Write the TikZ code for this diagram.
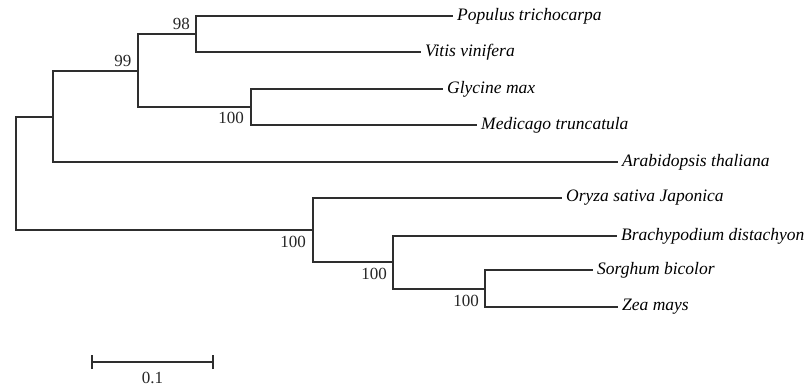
\documentclass[tikz,border=0pt]{standalone}
\usepackage{fontspec}
\setmainfont{Liberation Serif}
\begin{document}
\begin{tikzpicture}[x=1pt,y=-1pt,
  branch/.style={draw=black!82,line width=1.8pt},
  leaf/.style={anchor=west,inner sep=0pt,xshift=4pt,font=\fontsize{17.5}{17.5}\selectfont\itshape},
  boot/.style={inner sep=0pt,font=\fontsize{17}{17}\selectfont,text=black!85}]
\useasboundingbox (0,0) rectangle (806,389);
% internal nodes
\coordinate (R) at (16,174);
\coordinate (A) at (53,117);
\coordinate (N99) at (138,71);
\coordinate (N98) at (196,34);
\coordinate (NGM) at (251,107);
\coordinate (M) at (313,230);
\coordinate (B) at (393,262);
\coordinate (S) at (485,289);
% leaf tips
\coordinate (tPop) at (453,16);
\coordinate (tVit) at (421,52);
\coordinate (tGly) at (443,89);
\coordinate (tMed) at (477,125);
\coordinate (tAra) at (618,162);
\coordinate (tOry) at (562,198);
\coordinate (tBra) at (617,236);
\coordinate (tSor) at (593,270);
\coordinate (tZea) at (618,307);
% leaf labels
\node[leaf] (Pop) at (tPop) {Populus trichocarpa};
\node[leaf] (Vit) at (tVit) {Vitis vinifera};
\node[leaf] (Gly) at (tGly) {Glycine max};
\node[leaf] (Med) at (tMed) {Medicago truncatula};
\node[leaf] (Ara) at (tAra) {Arabidopsis thaliana};
\node[leaf] (Ory) at (tOry) {Oryza sativa Japonica};
\node[leaf] (Bra) at (tBra) {Brachypodium distachyon};
\node[leaf] (Sor) at (tSor) {Sorghum bicolor};
\node[leaf] (Zea) at (tZea) {Zea mays};
% branches
\draw[branch] (N98) |- (tPop);
\draw[branch] (N98) |- (tVit);
\draw[branch] (NGM) |- (tGly);
\draw[branch] (NGM) |- (tMed);
\draw[branch] (N99) |- (N98);
\draw[branch] (N99) |- (NGM);
\draw[branch] (A) |- (N99);
\draw[branch] (A) |- (tAra);
\draw[branch] (S) |- (tSor);
\draw[branch] (S) |- (tZea);
\draw[branch] (B) |- (tBra);
\draw[branch] (B) |- (S);
\draw[branch] (M) |- (tOry);
\draw[branch] (M) |- (B);
\draw[branch] (R) |- (A);
\draw[branch] (R) |- (M);
% bootstrap values
\node[boot,anchor=south east] (b98) at (190,30) {98};
\node[boot,anchor=south east] (b99) at (131.5,67) {99};
\node[boot,anchor=north east] (bGM) at (244,112) {100};
\node[boot,anchor=north east] (bM) at (306,236) {100};
\node[boot,anchor=north east] (bB) at (387,268) {100};
\node[boot,anchor=north east] (bS) at (479,295) {100};
% scale bar
\coordinate (s1) at (92,362);
\coordinate (s2) at (213,362);
\draw[branch,line width=1.6pt] (s1) -- (s2);
\draw[branch,line width=1.6pt] ([yshift=-7pt]s1) -- ([yshift=7pt]s1);
\draw[branch,line width=1.6pt] ([yshift=-7pt]s2) -- ([yshift=7pt]s2);
\node[boot,anchor=north] (sl) at (152.5,372) {0.1};
\end{tikzpicture}
\end{document}
